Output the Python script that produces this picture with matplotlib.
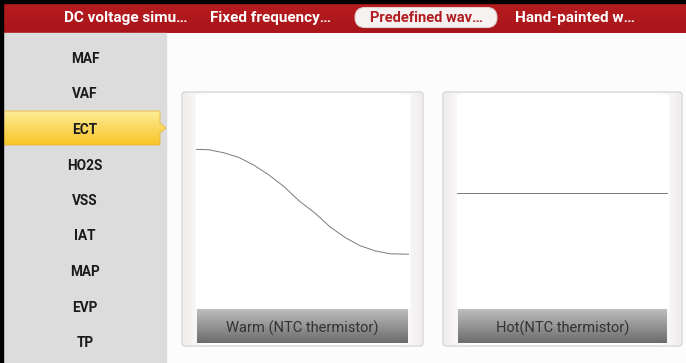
import numpy as np
import matplotlib
matplotlib.use("Agg")
import matplotlib.pyplot as plt
from matplotlib.patches import Rectangle, FancyBboxPatch, Polygon
from matplotlib.colors import to_rgb

plt.rcParams['font.family'] = ['Roboto', 'DejaVu Sans']

# ---- data
tab_labels = ["DC voltage simu…", "Fixed frequency…", "Predefined wav…", "Hand-painted w…"]
active_tab = 2
sensor_items = ["MAF", "VAF", "ECT", "HO2S", "VSS", "IAT", "MAP", "EVP", "TP"]
active_item = 2
panel_titles = ["Warm (NTC thermistor)", "Hot(NTC thermistor)"]

# warm curve: time (% of window) vs signal (V, 0-5 scale)
warm_t = [0, 6.1, 13.1, 20.2, 27.2, 34.3, 41.3, 48.8, 55.9, 62.9, 70.0, 77.0, 84.0, 91.1, 100]
warm_v = [3.73, 3.72, 3.65, 3.54, 3.36, 3.13, 2.86, 2.51, 2.24, 1.92, 1.67, 1.48, 1.36, 1.29, 1.28]
# hot: constant level
hot_t = [0, 100]
hot_v = [2.70, 2.70]

W, H = 686, 363
fig = plt.figure(figsize=(W / 100, H / 100), dpi=100)
ax = fig.add_axes([0, 0, 1, 1])
ax.set_xlim(0, W)
ax.set_ylim(H, 0)
ax.axis('off')
ax.add_patch(Rectangle((0, 0), W, H, color='#fcfcfc', zorder=0))


def vgrad(x0, y0, x1, y1, c_top, c_bot, clip=None, z=1):
    a, b = np.array(to_rgb(c_top)), np.array(to_rgb(c_bot))
    t = np.linspace(0, 1, 64)[:, None, None]
    img = a * (1 - t) + b * t
    im = ax.imshow(img, extent=(x0, x1, y1, y0), aspect='auto',
                   interpolation='bilinear', zorder=z)
    if clip is not None:
        im.set_clip_path(clip)
    return im


def hgrad(x0, y0, x1, y1, c_edge, c_mid, z=1):
    a, b = np.array(to_rgb(c_edge)), np.array(to_rgb(c_mid))
    t = np.abs(np.linspace(-1, 1, 128))
    t = np.clip((t - 0.8) / 0.2, 0, 1)[None, :, None]
    img = b * (1 - t) + a * t
    ax.imshow(img, extent=(x0, x1, y1, y0), aspect='auto',
              interpolation='bilinear', zorder=z)


# header bar
vgrad(0, 0, W, 33, '#b81d20', '#a9151a', z=1)
ax.add_patch(Rectangle((0, 0), W, 3, color='black', zorder=5))
ax.add_patch(Rectangle((0, 0), 3, H, color='black', zorder=5))

tab_x = [126, 271, 426, 575]
for i, (lab, x) in enumerate(zip(tab_labels, tab_x)):
    if i == active_tab:
        pill = FancyBboxPatch((355, 7.5), 142, 20, boxstyle="round,pad=0,rounding_size=10",
                              fc='#f6f2f2', ec='#e0d0d0', lw=0.8, zorder=3)
        ax.add_patch(pill)
        ax.text(x, 18, lab, color='#b01c20', fontsize=10.5, fontweight='bold',
                ha='center', va='center', zorder=4)
    else:
        ax.text(x, 18, lab, color='white', fontsize=11, fontweight='bold',
                ha='center', va='center', zorder=4)

# sidebar
ax.add_patch(Rectangle((3, 33), 163, H - 33, color='#dcdcdc', zorder=1))
item_y0, item_dy = 58, 35.5
for i, lab in enumerate(sensor_items):
    y = item_y0 + i * item_dy
    if i == active_item:
        shape = Polygon([(3, y - 18), (160, y - 18), (160, y - 6), (166, y - 1),
                         (160, y + 4), (160, y + 16), (3, y + 16)],
                        closed=True, fc='none', ec='#e8b840', lw=0.6, zorder=3)
        ax.add_patch(shape)
        vgrad(3, y - 18, 166, y + 16, '#fdec95', '#f8c527', clip=shape, z=2)
    ax.text(85, y + 1, lab, color='#1a1a1a', fontsize=9.8, fontweight='bold',
            ha='center', va='center', zorder=4)

# panels
panels = [(182, 92, 423, 346), (443, 92, 682, 346)]
series = [(warm_t, warm_v), (hot_t, hot_v)]
for (x0, y0, x1, y1), title, (t, v) in zip(panels, panel_titles, series):
    hgrad(x0 + 1, y0 + 1, x1 - 1, y1 - 1, '#f1eded', '#ffffff', z=1)
    ax.add_patch(FancyBboxPatch((x0, y0), x1 - x0, y1 - y0,
                                boxstyle="round,pad=0,rounding_size=3",
                                fc='none', ec='#d2d2d2', lw=0.9, zorder=3))
    px0, px1, py0, py1 = x0 + 14, x1 - 14, y0 + 3, 309
    ax.add_patch(Rectangle((px0, py0), px1 - px0, py1 - py0, color='white', zorder=2))
    vgrad(x0 + 15, 309, x1 - 15, 343, '#bdbdbd', '#6c6c6c', z=2)
    ax.text((x0 + x1) / 2, 328, title, color='#333333', fontsize=10.5,
            ha='center', va='center', zorder=4)

    sub = fig.add_axes([px0 / W, 1 - py1 / H, (px1 - px0) / W, (py1 - py0) / H])
    sub.patch.set_alpha(0)
    sub.axis('off')
    sub.set_xlim(0, 100)
    sub.set_ylim(0, 5)
    sub.plot(t, v, color='#7a7a7a', lw=0.7)

fig.savefig("out.png", dpi=100)
